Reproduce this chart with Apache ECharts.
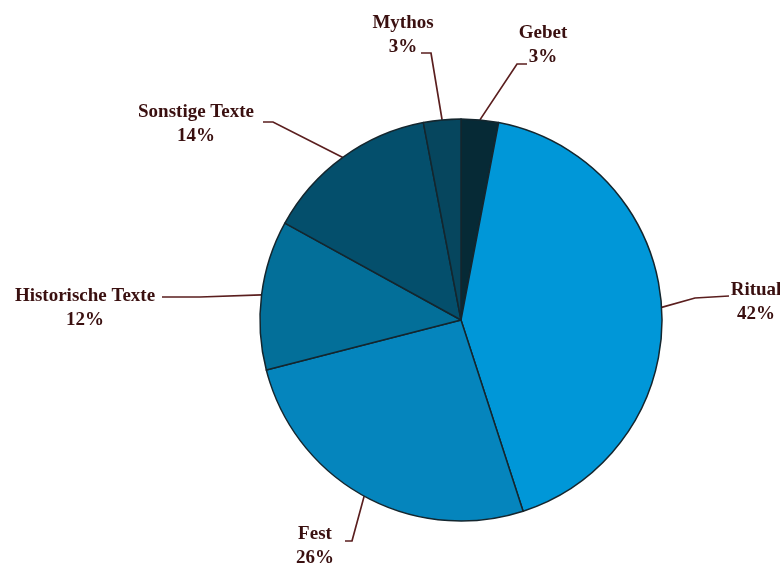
<!DOCTYPE html>
<html>
<head>
<meta charset="utf-8">
<script src="https://cdn.jsdelivr.net/npm/echarts@6/dist/echarts.min.js"></script>
<style>
  html, body { margin: 0; padding: 0; background: #ffffff; }
  #chart { width: 780px; height: 567px; }
</style>
</head>
<body>
<div id="chart"></div>
<script>
// Share of text genres (percent), clockwise from 12 o'clock
const categories = ['Gebet', 'Ritual', 'Fest', 'Historische Texte', 'Sonstige Texte', 'Mythos'];
const shares = [3, 42, 26, 12, 14, 3];
const sliceColors = ['#062a36', '#0097d8', '#0585bd', '#036f99', '#044f6c', '#06465e'];

// Label anchors and leader-line bends (pixel placement of the annotations)
const labelPlacement = [
  { x: 543, y: 45, bend: [517, 64], end: [527, 64] },
  { x: 756, y: 302, bend: [695, 298], end: [729, 296] },
  { x: 315, y: 546, bend: [352, 541], end: [345, 541] },
  { x: 85, y: 308, bend: [200, 297], end: [162, 297] },
  { x: 196, y: 124, bend: [273, 122], end: [263, 122] },
  { x: 403, y: 35, bend: [431, 53], end: [421, 53] }
];

const chart = echarts.init(document.getElementById('chart'));
chart.setOption({
  animation: false,
  backgroundColor: '#ffffff',
  series: [{
    type: 'pie',
    center: [461, 320],
    radius: [0, 201],
    startAngle: 90,
    clockwise: true,
    avoidLabelOverlap: false,
    data: categories.map((name, i) => ({
      name: name,
      value: shares[i],
      itemStyle: { color: sliceColors[i] }
    })),
    itemStyle: { borderColor: '#14262e', borderWidth: 1.5 },
    label: {
      show: true,
      position: 'outside',
      formatter: p => p.name + '\n' + p.value + '%',
      fontFamily: '"Liberation Serif", "DejaVu Serif", serif',
      fontWeight: 'bold',
      fontSize: 19,
      lineHeight: 24,
      color: '#3a1010',
      align: 'center'
    },
    labelLine: {
      show: true,
      length: 20,
      length2: 10,
      lineStyle: { color: '#5a1e1e', width: 1.7 }
    },
    labelLayout: function (params) {
      const lp = labelPlacement[params.dataIndex];
      const start = params.labelLinePoints ? params.labelLinePoints[0] : lp.bend;
      return {
        x: lp.x,
        y: lp.y,
        align: 'center',
        verticalAlign: 'middle',
        labelLinePoints: [start, lp.bend, lp.end]
      };
    },
    emphasis: { disabled: true }
  }]
});
</script>
</body>
</html>
